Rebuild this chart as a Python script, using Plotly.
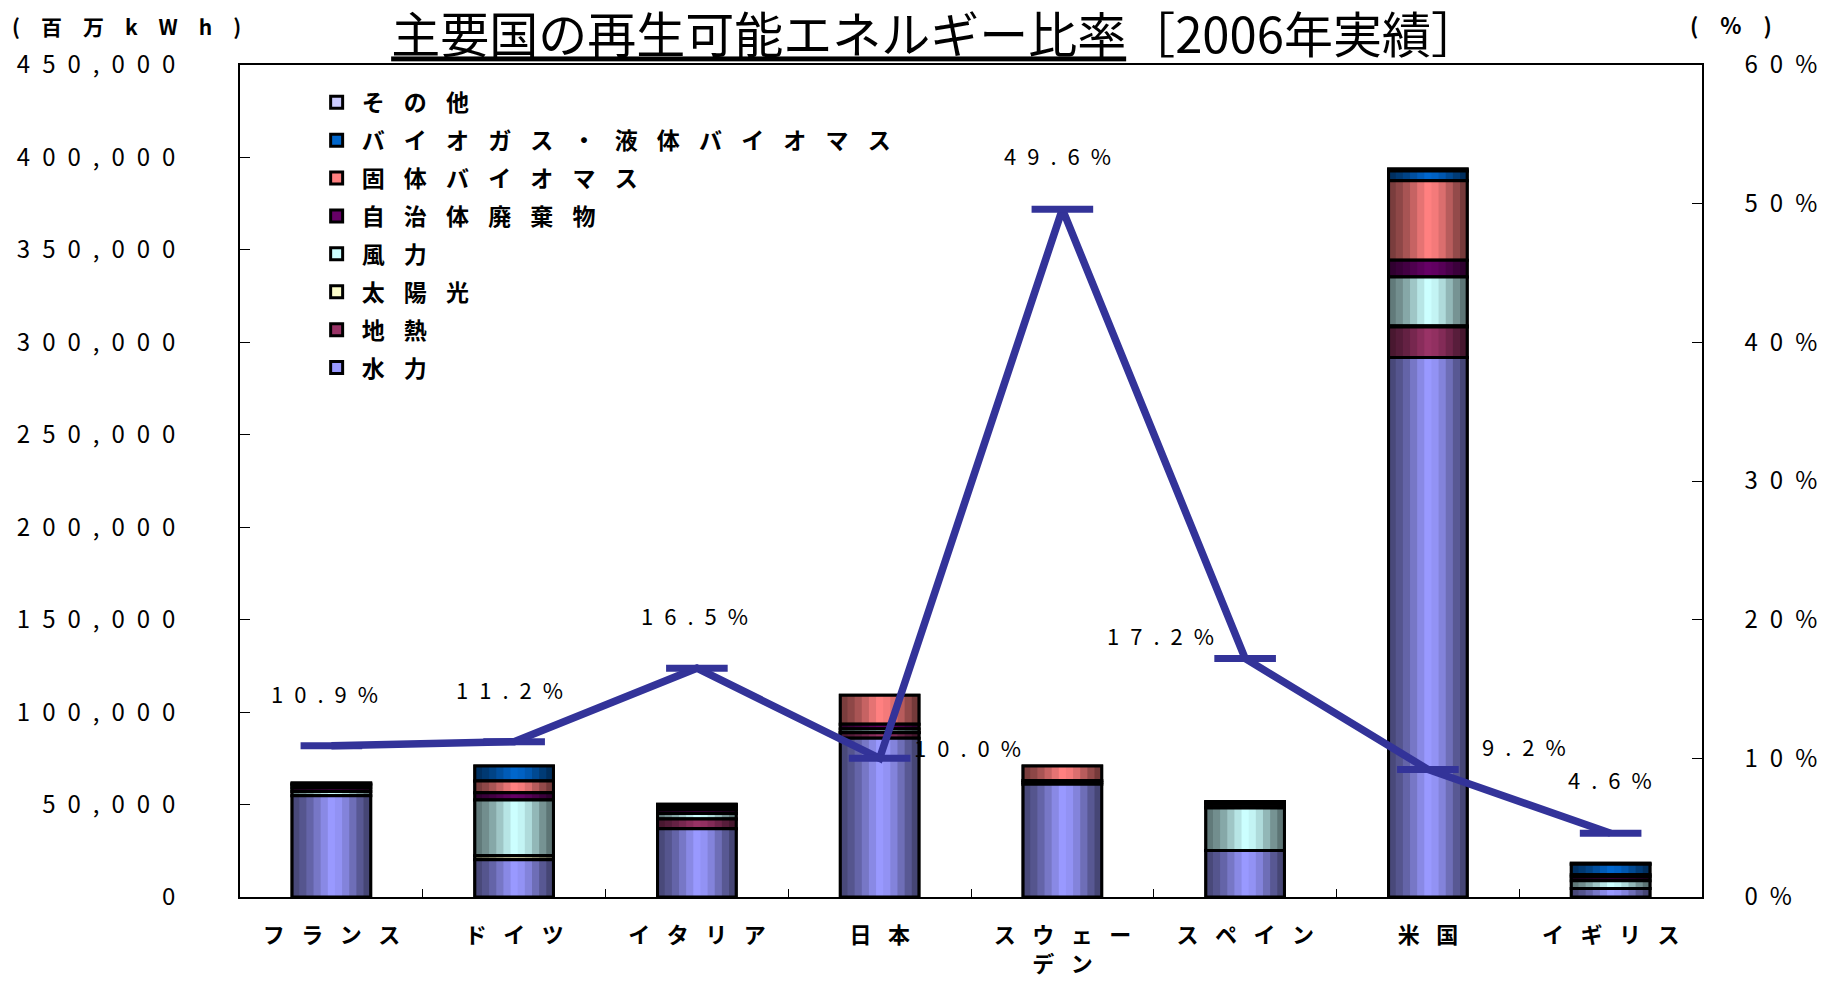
import plotly.graph_objects as go

# ---------------- data ----------------
countries = ["フランス", "ドイツ", "イタリア", "日本", "スウェー<br>デン", "スペイン", "米国", "イギリス"]
series_names = ["水力", "地熱", "太陽光", "風力", "自治体廃棄物", "固体バイオマス", "バイオガス・液体バイオマス", "その他"]

hydro      = [54800, 20100, 36900, 85800, 61000, 25100, 291800, 4600]
geothermal = [0,     0,     5300,  3100,  0,     0,     16500,  0]
solar      = [0,     2200,  0,     100,   0,     100,   500,    0]
wind       = [2200,  30200, 3000,  1800,  1000,  22900, 26600,  4200]
waste      = [2000,  3900,  1800,  2700,  1000,  700,   9000,   2000]
solid_bio  = [1600,  6400,  1700,  15600, 7800,  1800,  43000,  1300]
biogas     = [500,   8000,  1200,  0,     0,     700,   5300,   5600]
other      = [500,   0,     300,   0,     0,     300,   1000,   600]

share_pct = [10.9, 11.2, 16.5, 10.0, 49.6, 17.2, 9.2, 4.6]

y_left_ticks = [0, 50000, 100000, 150000, 200000, 250000, 300000, 350000, 400000, 450000]
y_right_ticks = [0, 10, 20, 30, 40, 50, 60]

# ---------------- style ----------------
series_values = [hydro, geothermal, solar, wind, waste, solid_bio, biogas, other]
series_colors = ["#9999FF", "#993366", "#FFFFCC", "#CCFFFF", "#660066", "#FF8080", "#0066CC", "#CCCCFF"]
shade = [0.48, 0.56, 0.66, 0.78, 0.9, 1.0, 0.96, 0.86, 0.72, 0.58, 0.46]
FONT = "Noto Sans CJK JP"
BAR_W = 0.43
EN = "\u2002"
IDEO = "\u3000"
XSEP = "\u2002\u2005"
LSEP = "\u2002\u2004"


def spaced(s, sep):
    parts = s.split("<br>")
    return "<br>".join(sep.join(list(p)) for p in parts)


def shade_color(hexc, f):
    h = hexc.lstrip("#")
    r, g, b = int(h[0:2], 16), int(h[2:4], 16), int(h[4:6], 16)
    return "rgb(%d,%d,%d)" % (min(255, r * f), min(255, g * f), min(255, b * f))


cats = [spaced(c, XSEP) for c in countries]

# stacked bases computed from the data (bottom = 水力)
bases = []
cum = [0] * len(countries)
for vals in series_values:
    bases.append(list(cum))
    cum = [c + v for c, v in zip(cum, vals)]

fig = go.Figure()

# add series top-down so that the legend lists その他 first (as in the reference)
for idx in reversed(range(len(series_names))):
    name, vals, col, base = series_names[idx], series_values[idx], series_colors[idx], bases[idx]
    yv = [v if v > 0 else None for v in vals]
    fig.add_trace(go.Bar(
        x=cats, y=yv, base=base, width=BAR_W, offset=-BAR_W / 2,
        marker=dict(color=col, line=dict(color="black", width=3)),
        name=spaced(name, LSEP), legendgroup=name, showlegend=True, hoverinfo="skip"))
    n = len(shade)
    for k, f in enumerate(shade):
        off = -BAR_W / 2 + k * BAR_W / n
        fig.add_trace(go.Bar(
            x=cats, y=yv, base=base, width=BAR_W / 2 - off, offset=off,
            marker=dict(color=shade_color(col, f), line=dict(width=0)),
            legendgroup=name, showlegend=False, hoverinfo="skip"))
    fig.add_trace(go.Bar(
        x=cats, y=yv, base=base, width=BAR_W, offset=-BAR_W / 2,
        marker=dict(color="rgba(0,0,0,0)", line=dict(color="black", width=3)),
        legendgroup=name, showlegend=False, hoverinfo="skip"))

fig.add_trace(go.Scatter(
    x=cats, y=share_pct, yaxis="y2", mode="lines+markers",
    line=dict(color="#333399", width=7.5),
    marker=dict(symbol="line-ew", size=44, line=dict(color="#333399", width=7)),
    showlegend=False, hoverinfo="skip"))

# percentage labels
label_shift_x = [-7, -5, -2, 88, -5, -85, 96, -1]
label_shift_y = [53, 53, 53, 11, 54, 23, 23, 54]
for c, p, dx, dy in zip(cats, share_pct, label_shift_x, label_shift_y):
    fig.add_annotation(x=c, y=p, xref="x", yref="y2", text=spaced("%.1f%%" % p, EN),
                       showarrow=False, xshift=dx, yshift=dy,
                       font=dict(family=FONT, size=22, color="black"))

# axis unit labels
fig.add_annotation(text=spaced("(百万kWh)", "\u2003"), xref="paper", yref="paper",
                   x=-0.157, y=1.047, xanchor="left", yanchor="middle", showarrow=False,
                   font=dict(family=FONT, size=21, color="black", weight="bold"))
fig.add_annotation(text=spaced("(%)", IDEO), xref="paper", yref="paper",
                   x=1.0, y=1.049, xanchor="left", yanchor="middle", xshift=-14, showarrow=False,
                   font=dict(family=FONT, size=22, color="black", weight="bold"))

fig.update_layout(
    width=1838, height=981,
    margin=dict(l=240, r=136, t=65, b=84),
    paper_bgcolor="white", plot_bgcolor="white",
    barmode="overlay",
    title=dict(text="<u>主要国の再生可能エネルギー比率</u>［2006年実績］",
               x=0.509, xref="container", xanchor="center",
               y=0.963, yref="container", yanchor="middle",
               font=dict(family=FONT, size=49, color="black")),
    font=dict(family=FONT, color="black"),
    legend=dict(x=0.049, y=0.981, xanchor="left", yanchor="top", traceorder="grouped",
                bgcolor="rgba(0,0,0,0)", tracegroupgap=5, itemwidth=40,
                font=dict(family=FONT, size=23, color="black", weight="bold")),
    xaxis=dict(type="category", range=[-0.5, 7.5], showline=True, linecolor="black",
               linewidth=1.5, mirror=True,
               ticks="inside", ticklen=8, tickcolor="black", tickson="boundaries",
               tickfont=dict(family=FONT, size=22, color="black", weight="bold"),
               ticklabelstandoff=18, showgrid=False, automargin=False),
    yaxis=dict(range=[0, 450000], tickvals=y_left_ticks,
               ticktext=[spaced("{:,}".format(v), EN) for v in y_left_ticks],
               showline=True, linecolor="black", linewidth=1.5, mirror=True,
               ticks="inside", ticklen=10, tickcolor="black",
               tickfont=dict(family=FONT, size=24, color="black"),
               ticklabelstandoff=58, showgrid=False, zeroline=False, automargin=False),
    yaxis2=dict(range=[0, 60], tickvals=y_right_ticks,
                ticktext=[spaced("%d%%" % v, EN) for v in y_right_ticks],
                overlaying="y", side="right", anchor="x", showline=True, linecolor="black",
                linewidth=1.5, ticks="inside", ticklen=10, tickcolor="black",
                tickfont=dict(family=FONT, size=24, color="black"),
                ticklabelstandoff=36, showgrid=False, zeroline=False, automargin=False),
)

fig.write_html("out.html")
